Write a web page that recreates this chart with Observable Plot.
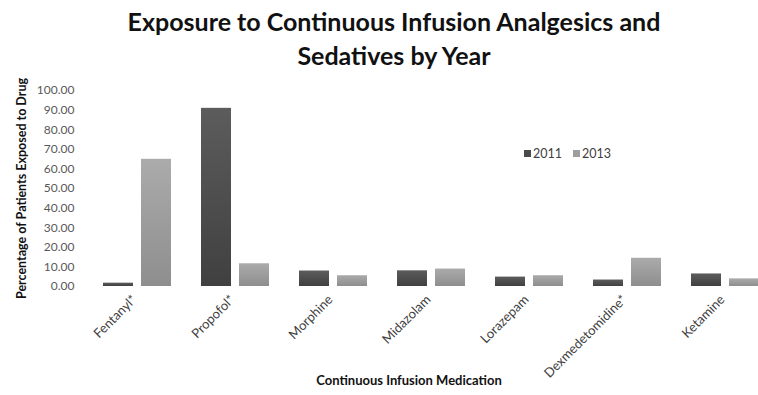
<!DOCTYPE html>
<html>
<head>
<meta charset="utf-8">
<script src="https://cdn.jsdelivr.net/npm/d3@7"></script>
<script src="https://cdn.jsdelivr.net/npm/@observablehq/plot@0.6"></script>
<style>
  html, body { margin: 0; padding: 0; background: #fff; overflow: hidden; }
  #wrap { position: relative; width: 758px; height: 395px; overflow: hidden; font-family: Lato, "Open Sans", sans-serif; }
  #title { height: 80px; box-sizing: border-box; padding-top: 4px; text-align: center; font-weight: bold; font-size: 25px; line-height: 34px; color: #111; padding-left: 30px; }
  #xlabel { position: absolute; left: 0; top: 372px; width: 818px; text-align: center; font-weight: bold; font-size: 13px; color: #111; }
  #legend { position: absolute; left: 524px; top: 146px; font-size: 12.5px; color: #404040; display: flex; align-items: center; }
  #legend .sw { display: inline-block; width: 7px; height: 7px; margin-right: 2px; }
  #legend .item { display: flex; align-items: center; margin-right: 11px; }
  svg { overflow: visible; }
</style>
</head>
<body>
<div id="wrap">
  <div id="title">Exposure to Continuous Infusion Analgesics and<br>Sedatives by Year</div>
  <div id="chart"></div>
  <div id="legend"></div>
  <div id="xlabel">Continuous Infusion Medication</div>
</div>
<script>
const drugs = ["Fentanyl*", "Propofol*", "Morphine", "Midazolam", "Lorazepam", "Dexmedetomidine*", "Ketamine"];
const years = ["2011", "2013"];
const values2011 = [1.7, 90.9, 7.9, 8.0, 4.8, 3.3, 6.4];
const values2013 = [64.9, 11.6, 5.5, 8.9, 5.5, 14.4, 3.9];
const yTicks = [0, 10, 20, 30, 40, 50, 60, 70, 80, 90, 100];

const rows2011 = drugs.map((d, i) => ({drug: d, year: "2011", value: values2011[i]}));
const rows2013 = drugs.map((d, i) => ({drug: d, year: "2013", value: values2013[i]}));

const chart = Plot.plot({
  width: 758,
  height: 290,
  marginTop: 10,
  marginBottom: 84,
  marginLeft: 77,
  marginRight: 0,
  style: {fontFamily: "Lato, 'Open Sans', sans-serif", background: "transparent", overflow: "visible"},
  x: {domain: drugs, range: [84.6, 777], padding: 0},
  y: {domain: [0, 100], range: [206, 10]},
  marks: [
    Plot.barY(rows2011, {x: "drug", y: "value", fill: "url(#g2011)", insetLeft: 15, insetRight: 53}),
    Plot.barY(rows2013, {x: "drug", y: "value", fill: "url(#g2013)", insetLeft: 53, insetRight: 15}),
    Plot.axisY({ticks: yTicks, tickFormat: d3.format(".2f"), tickSize: 0, tickPadding: 3, fontSize: 12, color: "#595959",
      label: null}),
    Plot.axisY({ticks: [], label: "Percentage of Patients Exposed to Drug", labelAnchor: "center", labelOffset: 60,
      labelArrow: "none", fontSize: 12.5, fontWeight: "bold", color: "#111"}),
    Plot.axisX({tickSize: 0, tickPadding: 11, tickRotate: -45, fontSize: 13, color: "#404040", label: null, dx: -3})
  ]
});

const svg = d3.select(chart.tagName.toLowerCase() === "svg" ? chart : chart.querySelector("svg"));
const defs = svg.insert("defs", ":first-child");
const g1 = defs.append("linearGradient").attr("id", "g2011").attr("x1", 0).attr("y1", 0).attr("x2", 0).attr("y2", 1);
g1.append("stop").attr("offset", "0%").attr("stop-color", "#5c5c5c");
g1.append("stop").attr("offset", "100%").attr("stop-color", "#404040");
const g2 = defs.append("linearGradient").attr("id", "g2013").attr("x1", 0).attr("y1", 0).attr("x2", 0).attr("y2", 1);
g2.append("stop").attr("offset", "0%").attr("stop-color", "#ababab");
g2.append("stop").attr("offset", "100%").attr("stop-color", "#8e8e8e");
svg.selectAll("text").filter(function() { return this.textContent === "Percentage of Patients Exposed to Drug"; })
  .attr("font-weight", "bold");

document.getElementById("chart").appendChild(chart);

const legendColors = {"2011": "#4a4a4a", "2013": "#9e9e9e"};
const legend = document.getElementById("legend");
years.forEach(y => {
  const item = document.createElement("span");
  item.className = "item";
  item.innerHTML = `<span class="sw" style="background:${legendColors[y]}"></span>${y}`;
  legend.appendChild(item);
});
</script>
</body>
</html>
